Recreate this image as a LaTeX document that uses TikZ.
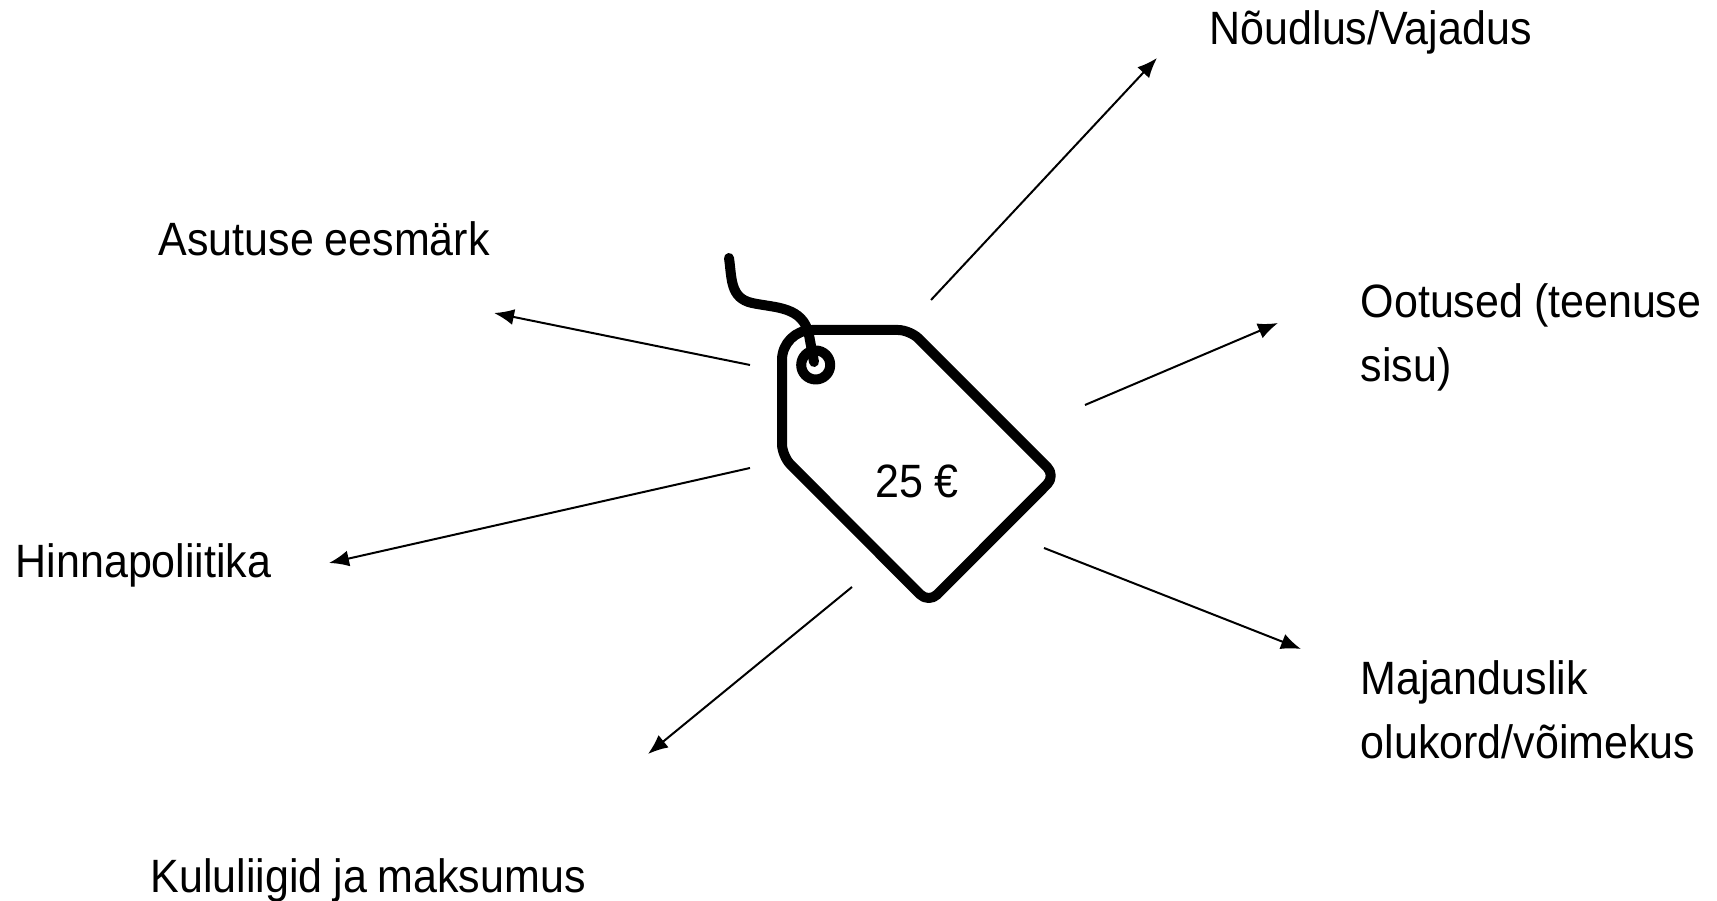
\documentclass[tikz,border=0pt]{standalone}
\usepackage{fontspec}
\setmainfont[FakeStretch=0.92,WordSpace=0.9]{Liberation Sans}
\usetikzlibrary{arrows.meta}

\begin{document}
\begin{tikzpicture}[
    lbl/.style={inner sep=0pt, align=left, font=\fontsize{13.3}{18.2}\selectfont, text=black},
    tagline/.style={line width=0.1cm, line join=round, line cap=round},
    factor/.style={line width=0.02cm, -{Latex[length=0.2cm, width=0.16cm]}}
]
    \useasboundingbox (0,0) rectangle (17.17,9.01);

    % Price tag
    \draw [tagline] (8.5,5.71) [rounded corners=0.12cm] -- (9.10,5.71) -- (10.557,4.253) -- (9.287,2.98) -- (7.82,4.45) [rounded corners=0.3cm] -- (7.82,5.71) -- cycle;
    \draw [tagline] (8.157,5.36) circle (0.145);
    \draw [tagline] (7.29,6.43) .. controls (7.32,6.22) and (7.30,6.03) .. (7.52,5.98) .. controls (7.75,5.93) and (8.03,5.95) .. (8.09,5.66) -- (8.14,5.39);
    \node [lbl, anchor=base west] (price) at (8.75,4.03) {25 €};

    % Labels
    \foreach \name/\x/\y/\txt in {noudlus/12.09/8.56/Nõudlus\slash Vajadus, asutus/1.58/6.45/Asutuse eesmärk, hinna/0.15/3.23/Hinnapoliitika, kulu/1.50/0.08/Kululiigid ja maksumus} {
        \node [lbl, anchor=base west] (\name) at (\x,\y) {\txt};
    }
    \node [lbl, anchor=west] (ootused) at (13.60,5.64) {Ootused (teenuse\\sisu)};
    \node [lbl, anchor=west] (majandus) at (13.60,1.91) {Majanduslik\\olukord/võimekus};

    % Arrows
    \foreach \a/\ax/\ay/\bx/\by in {noudlus/9.31/6.01/11.57/8.43, ootused/10.85/4.96/12.78/5.78, majandus/10.44/3.53/13.01/2.52, kulu/8.52/3.14/6.48/1.47, hinna/7.50/4.33/3.29/3.38, asutus/7.50/5.36/4.94/5.88} {
        \coordinate (\a-tail) at (\ax,\ay);
        \coordinate (\a-head) at (\bx,\by);
        \draw [factor] (\a-tail) -- (\a-head);
    }
\end{tikzpicture}
\end{document}
